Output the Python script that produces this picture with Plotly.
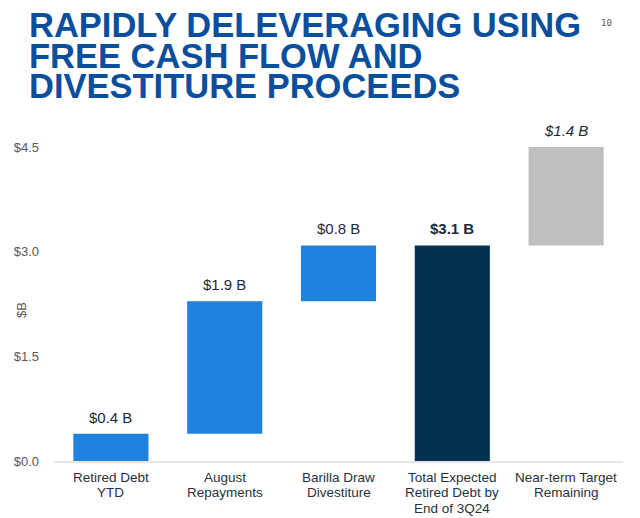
import numpy as np
import plotly.graph_objects as go

categories = ["Retired Debt<br>YTD", "August<br>Repayments", "Barilla Draw<br>Divestiture",
              "Total Expected<br>Retired Debt by<br>End of 3Q24", "Near-term Target<br>Remaining"]
steps = [0.39, 1.9, 0.8]          # incremental debt retired ($B)
total_retired = 3.09              # total expected retired debt ($B)
remaining = 1.41                  # near-term target remaining ($B)
bar_labels = ["$0.4 B", "$1.9 B", "$0.8 B", "$3.1 B", "$1.4 B"]
tick_vals = [0, 1.5, 3.0, 4.5]
tick_text = ["$0.0", "$1.5", "$3.0", "$4.5"]
title_lines = ["RAPIDLY DELEVERAGING USING", "FREE CASH FLOW AND", "DIVESTITURE PROCEEDS"]

cum = np.cumsum(steps)
bases = [0.0] + list(cum[:-1]) + [0.0, total_retired]
heights = list(steps) + [total_retired, remaining]
tops = [b + h for b, h in zip(bases, heights)]
colors = ["#1E82DE", "#1E82DE", "#1E82DE", "#03304F", "#BFBFBF"]

fig = go.Figure()
fig.add_trace(go.Bar(x=categories, y=heights, base=bases,
                     marker=dict(color=colors, line=dict(width=0)),
                     hoverinfo="skip"))

# page body has an 8px default margin: work in window pixels, shift into figure pixels
OFF = 8
FW, FH = 640 - OFF, 518 - OFF
L, T, W, H = 54 - OFF, 146.5 - OFF, 569, 315
def px_x(px):
    return (px - OFF - L) / W
def px_y(py):
    return (T + H - (py - OFF)) / H

annotations = []
for i, (cat, top, lab) in enumerate(zip(categories, tops, bar_labels)):
    text = lab
    if i == 3:
        text = "<b>" + lab + "</b>"
    elif i == 4:
        text = "<i>" + lab + "</i>"
    annotations.append(dict(x=cat, y=top, xref="x", yref="y", text=text, showarrow=False,
                            yanchor="bottom", yshift=6,
                            font=dict(family="Liberation Sans, Arial", size=15, color="#1B2A3A")))
    # category labels, one line at a time for the reference's tight line spacing
    for j, part in enumerate(cat.split("<br>")):
        annotations.append(dict(x=cat, y=0, xref="x", yref="y", text=part, showarrow=False,
                                xanchor="center", yanchor="middle", yshift=-16.5 - 15.4 * j,
                                font=dict(family="Liberation Sans, Arial", size=13.5,
                                          color="#263240")))

for line, py in zip(title_lines, [24, 55, 85]):
    annotations.append(dict(x=px_x(27), y=px_y(py), xref="paper", yref="paper", text=line,
                            showarrow=False, xanchor="left", yanchor="middle",
                            font=dict(family="Liberation Sans, Arial", size=34.5, color="#0A4E9E",
                                      weight="bold")))

annotations.append(dict(x=px_x(606), y=px_y(22), xref="paper", yref="paper", text="10",
                        showarrow=False, xanchor="center", yanchor="middle",
                        font=dict(family="DejaVu Sans Mono", size=9, color="#555555")))
annotations.append(dict(x=px_x(22), y=px_y(310), xref="paper", yref="paper", text="$B",
                        showarrow=False, textangle=-90, xanchor="center", yanchor="middle",
                        font=dict(family="Liberation Sans, Arial", size=13, color="#595959")))

fig.update_layout(
    width=FW, height=FH,
    margin=dict(l=L, r=FW - L - W, t=T, b=FH - T - H, autoexpand=False),
    paper_bgcolor="white", plot_bgcolor="white",
    bargap=0.34, showlegend=False,
    annotations=annotations,
    xaxis=dict(showline=True, linecolor="#E6E6E6", linewidth=2, showgrid=False, automargin=False,
               ticks="", showticklabels=False),
    yaxis=dict(range=[0, 4.5], tickvals=tick_vals, ticktext=tick_text, showgrid=False,
               zeroline=False, showline=False, ticks="", ticklabelstandoff=14, automargin=False,
               tickfont=dict(family="Liberation Sans, Arial", size=13, color="#595959")),
)

fig.write_html("out.html")
